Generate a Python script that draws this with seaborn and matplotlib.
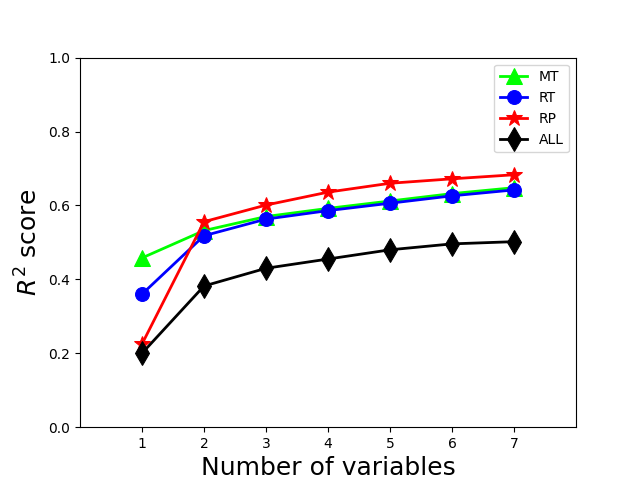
import matplotlib
matplotlib.use('Agg')
import matplotlib.pyplot as plt
import pandas as pd
import seaborn as sns

# values
n_vars = [1, 2, 3, 4, 5, 6, 7]
mt = [0.458, 0.532, 0.570, 0.592, 0.612, 0.632, 0.648]
rt = [0.360, 0.518, 0.563, 0.586, 0.606, 0.626, 0.642]
rp = [0.225, 0.556, 0.601, 0.636, 0.660, 0.672, 0.683]
all_vars = [0.200, 0.382, 0.430, 0.455, 0.480, 0.496, 0.502]

series = [
    ('MT', mt, 'lime', '^', 11),
    ('RT', rt, 'blue', 'o', 10),
    ('RP', rp, 'red', '*', 12),
    ('ALL', all_vars, 'black', 'd', 12),
]

fig, ax = plt.subplots(figsize=(6.4, 4.8), dpi=100)
for name, vals, col, mk, ms in series:
    df = pd.DataFrame({'n': n_vars, 'score': vals})
    sns.lineplot(x='n', y='score', data=df, color=col, marker=mk, markersize=ms,
                 markeredgecolor=col, linewidth=2, label=name, ax=ax)

ax.set_xlim(0, 8)
ax.set_ylim(0, 1.0)
ax.set_xticks(n_vars)
ax.set_xlabel('Number of variables', fontsize=18)
ax.set_ylabel('$R^2$ score', fontsize=18)
ax.legend(loc='upper right')
fig.savefig('out.png', dpi=100)
